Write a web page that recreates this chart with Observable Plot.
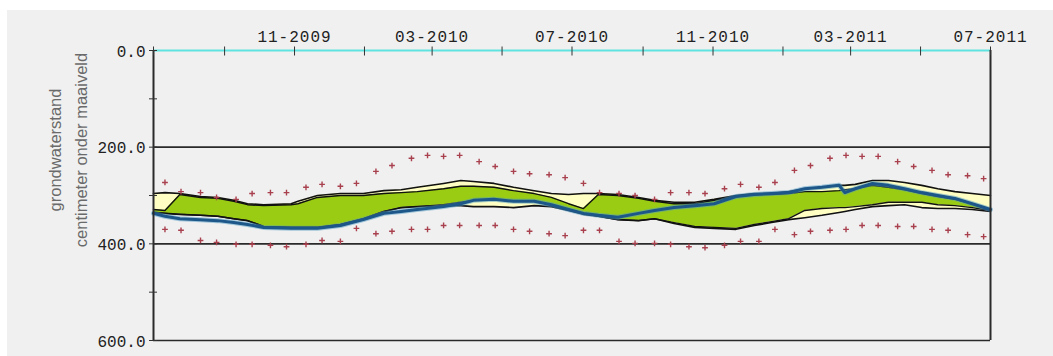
<!DOCTYPE html>
<html><head><meta charset="utf-8">
<script src="https://cdn.jsdelivr.net/npm/d3@7"></script>
<script src="https://cdn.jsdelivr.net/npm/@observablehq/plot@0.6"></script>
<style>
html,body{margin:0;padding:0;background:#fff;}
#chart{position:absolute;left:7px;top:10px;}
g[aria-label="x-axis tick label"] text{letter-spacing:1px;}
</style></head><body><div id="chart"></div>
<script>
// Model band / measured series (centimeter onder maaiveld)
const dates = ["2009-07-01","2009-07-11","2009-07-24","2009-08-11","2009-08-26","2009-09-09","2009-09-21","2009-10-05","2009-10-29","2009-11-04","2009-11-21","2009-12-11","2009-12-31","2010-01-18","2010-02-02","2010-02-16","2010-03-11","2010-03-26","2010-04-06","2010-04-24","2010-05-11","2010-05-29","2010-06-13","2010-06-28","2010-07-11","2010-07-24","2010-08-10","2010-08-28","2010-09-11","2010-09-28","2010-10-16","2010-11-02","2010-11-21","2010-12-07","2010-12-22","2011-01-06","2011-01-20","2011-02-04","2011-02-19","2011-02-24","2011-03-05","2011-03-20","2011-04-03","2011-04-17","2011-05-02","2011-05-16","2011-05-31","2011-06-15","2011-07-01"];
const upperBand   = [296,294,296,302,304,310,317,319,317,312,300,296,296,290,288,283,275,269,271,275,283,290,296,298,296,296,298,304,310,314,314,308,300,296,296,292,286,283,279,279,277,269,269,273,279,286,292,296,300];
const greenTop    = [329,331,298,304,306,312,319,321,319,317,304,300,300,296,294,292,286,281,281,283,290,296,304,317,327,298,300,306,312,317,317,310,302,298,298,296,292,292,290,288,286,279,283,288,296,302,308,317,329];
const greenBottom = [335,337,339,341,343,348,352,364,366,366,366,360,348,333,325,323,319,314,310,308,312,312,319,329,337,343,350,352,348,356,364,366,368,360,354,348,331,327,325,325,323,319,314,314,314,319,321,325,331];
const lowerBand   = [335,337,339,341,343,348,352,364,366,366,366,360,348,333,325,323,321,321,323,323,325,321,323,331,339,343,350,352,348,358,366,368,370,362,356,350,346,341,335,333,329,323,321,319,325,327,327,329,333];
const measured    = [337,343,348,350,352,356,360,366,368,368,368,362,350,337,333,329,323,317,310,308,312,312,319,329,337,341,345,337,331,325,321,317,302,298,296,294,286,283,279,294,286,275,279,286,294,300,306,317,329];

// Red marker series (upper / lower bounds)
const dotDates = ["2009-07-11","2009-07-25","2009-08-11","2009-08-25","2009-09-11","2009-09-25","2009-10-11","2009-10-25","2009-11-11","2009-11-25","2009-12-11","2009-12-25","2010-01-11","2010-01-25","2010-02-11","2010-02-25","2010-03-11","2010-03-25","2010-04-11","2010-04-25","2010-05-11","2010-05-25","2010-06-11","2010-06-25","2010-07-11","2010-07-25","2010-08-11","2010-08-25","2010-09-11","2010-09-25","2010-10-11","2010-10-25","2010-11-11","2010-11-25","2010-12-11","2010-12-25","2011-01-11","2011-01-25","2011-02-11","2011-02-25","2011-03-11","2011-03-25","2011-04-11","2011-04-25","2011-05-11","2011-05-25","2011-06-11","2011-06-25"];
const dotUpper = [273,292,294,304,308,296,294,294,283,277,281,275,250,238,223,217,219,217,230,240,250,255,257,263,275,294,296,300,308,294,294,296,286,277,283,273,248,238,223,217,219,219,230,240,248,257,259,265];
const dotLower = [370,372,393,397,401,401,403,406,401,393,395,368,379,374,370,370,362,362,362,362,370,374,379,383,372,372,395,399,399,401,406,408,403,395,395,370,381,374,372,370,362,362,364,364,370,372,381,385];

// Axes
const xDomain = ["2009-07-01","2011-07-01"];
const xTickDates = ["2009-07-01","2009-09-01","2009-11-01","2010-01-01","2010-03-01","2010-05-01","2010-07-01","2010-09-01","2010-11-01","2011-01-01","2011-03-01","2011-05-01","2011-07-01"];
const xLabelDates = ["2009-11-01","2010-03-01","2010-07-01","2010-11-01","2011-03-01","2011-07-01"];
const yTickValues = [0,100,200,300,400,500,600];
const yLabelValues = [0,200,400,600];
const gridValues = [200,400,600];
const titleLines = ["grondwaterstand","centimeter onder maaiveld"];

const parse = d3.utcParse("%Y-%m-%d");
const rows = dates.map((d,i)=>({date:parse(d), upper:upperBand[i], gTop:greenTop[i], gBottom:greenBottom[i], lower:lowerBand[i], measured:measured[i]}));
const dots = dotDates.map((d,i)=>({date:parse(d), hi:dotUpper[i], lo:dotLower[i]}));
const x0 = parse(xDomain[0]), x1 = parse(xDomain[1]);
const black = "#111";

const chart = Plot.plot({
  width: 1046, height: 346,
  marginLeft: 146, marginRight: 63, marginTop: 40, marginBottom: 16,
  style: {background:"#f0f0f0", fontFamily:"'Liberation Mono', 'DejaVu Sans Mono', monospace", fontSize:"16px", color:"#222"},
  x: {type:"utc", domain:[x0, x1]},
  y: {domain:[0,600], reverse:true},
  marks: [
    Plot.ruleY(gridValues, {stroke:"#2a2a2a", strokeWidth:1.6}),
    Plot.areaY(rows, {x:"date", y1:"upper", y2:"lower", fill:"#ffffc4"}),
    Plot.areaY(rows, {x:"date", y1:"gTop", y2:"gBottom", fill:"#9acc14"}),
    Plot.lineY(rows, {x:"date", y:"upper", stroke:black, strokeWidth:1.6}),
    Plot.lineY(rows, {x:"date", y:"lower", stroke:black, strokeWidth:1.6}),
    Plot.lineY(rows, {x:"date", y:"gTop", stroke:black, strokeWidth:1.4}),
    Plot.lineY(rows, {x:"date", y:"gBottom", stroke:black, strokeWidth:1.4}),
    Plot.lineY(rows, {x:"date", y:"measured", stroke:"#4f9cc4", strokeWidth:5, strokeOpacity:0.5}),
    Plot.lineY(rows, {x:"date", y:"measured", stroke:"#1d5688", strokeWidth:3}),
    Plot.dot(dots, {x:"date", y:"hi", symbol:"plus", r:2, stroke:"#a8404e", strokeWidth:1.4}),
    Plot.dot(dots, {x:"date", y:"lo", symbol:"plus", r:2, stroke:"#a8404e", strokeWidth:1.4}),
    Plot.ruleY([0], {stroke:"#5fe3e0", strokeWidth:2}),
    Plot.ruleX([x0, x1], {stroke:"#2a2a2a", strokeWidth:2}),
    Plot.axisX({anchor:"top", ticks:xTickDates.map(parse), tickSize:9, dy:4.5, tickFormat:()=>"", label:null, stroke:"#333"}),
    Plot.axisX({anchor:"top", ticks:xLabelDates.map(parse), tickSize:0, tickPadding:9, tickFormat:d3.utcFormat("%m-%Y"), label:null}),
    Plot.axisY({ticks:yTickValues, tickSize:8, dx:4, tickFormat:()=>"", label:null, stroke:"#333"}),
    Plot.axisY({ticks:yLabelValues, tickSize:0, tickPadding:8, dy:1, tickFormat:d=>d.toFixed(1), label:null})
  ]
});

const svg = d3.select(chart);
[[54, titleLines[0]], [80, titleLines[1]]].forEach(([bx, t]) => {
  svg.append("text")
    .attr("transform", `translate(${bx},140) rotate(-90)`)
    .attr("text-anchor", "middle")
    .attr("font-family", "'Liberation Sans', Arial, sans-serif")
    .attr("font-size", "16.5px")
    .attr("fill", "#6a6a6a")
    .text(t);
});
document.getElementById("chart").appendChild(chart);
</script></body></html>
